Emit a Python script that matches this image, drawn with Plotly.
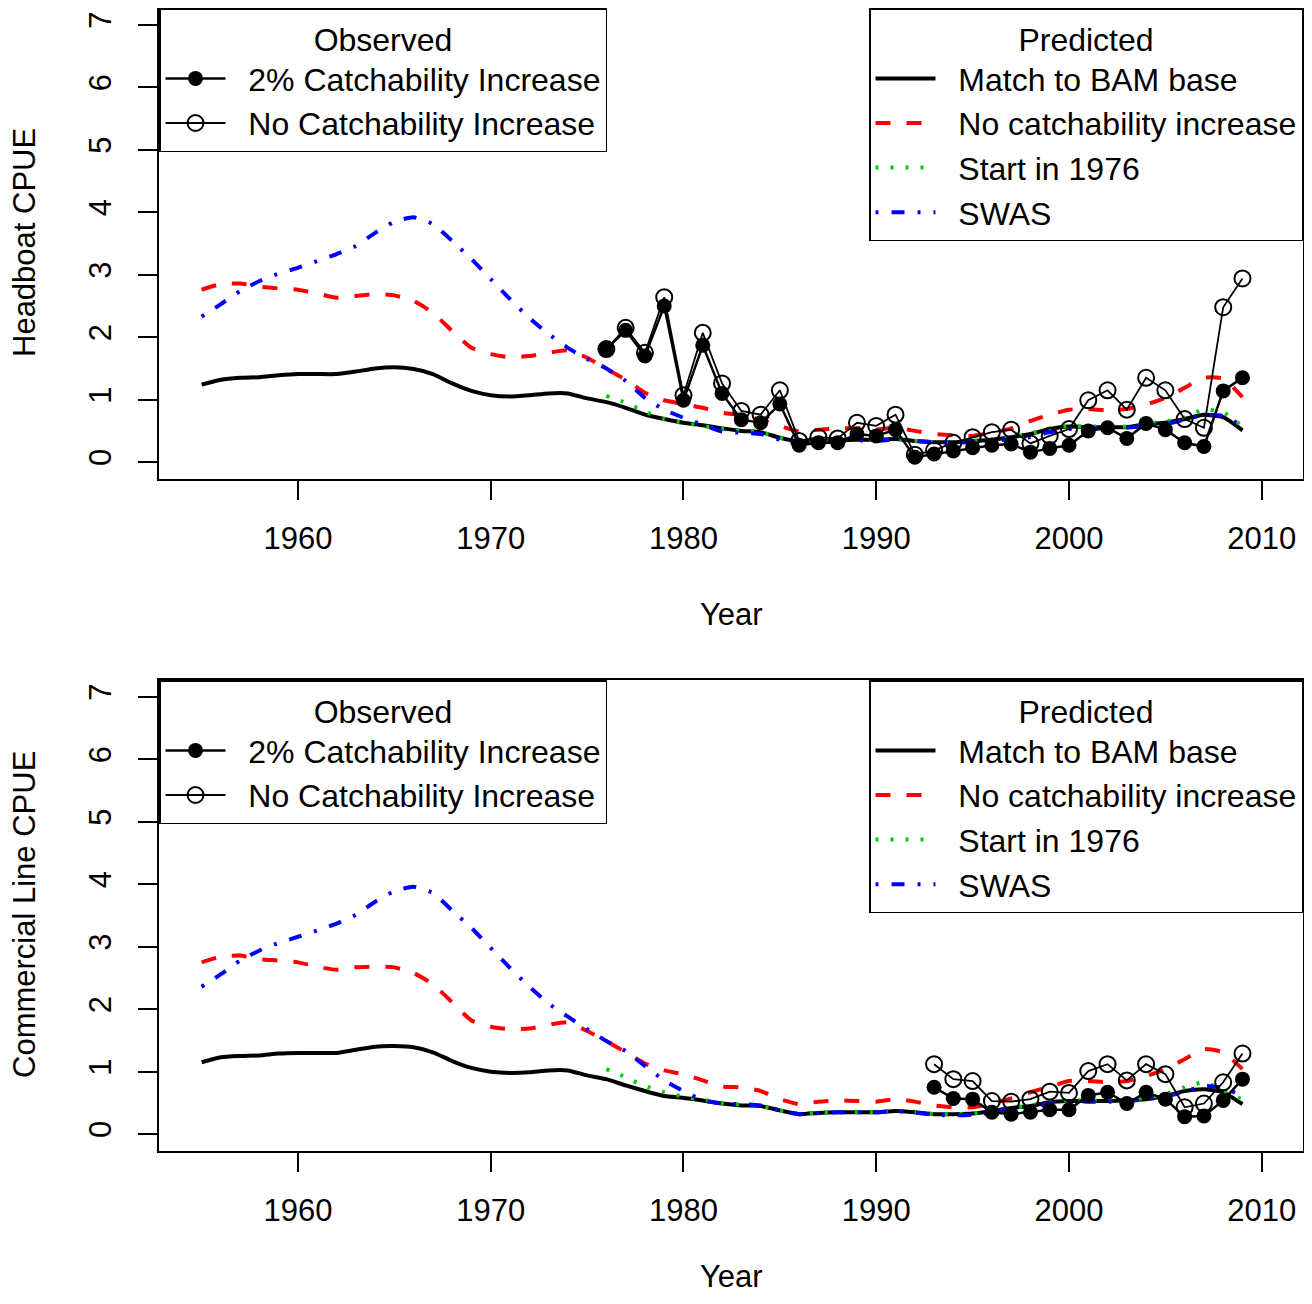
import plotly.graph_objects as go

FONT = "Liberation Sans, Arial, sans-serif"

years = list(range(1955, 2010))
years_1976 = list(range(1976, 2010))
years_cl_obs = list(range(1993, 2010))

# Headboat panel - predicted
hb_base = [1.24, 1.32, 1.35, 1.36, 1.39, 1.41, 1.41, 1.41, 1.45, 1.50,
           1.52, 1.49, 1.41, 1.26, 1.14, 1.07, 1.05, 1.07, 1.10, 1.10,
           1.02, 0.96, 0.87, 0.76, 0.69, 0.63, 0.59, 0.54, 0.50, 0.48,
           0.39, 0.33, 0.34, 0.35, 0.36, 0.36, 0.37, 0.34, 0.32, 0.32,
           0.34, 0.36, 0.40, 0.45, 0.53, 0.57, 0.56, 0.56, 0.56, 0.61,
           0.63, 0.69, 0.76, 0.72, 0.51]
hb_noq = [2.76, 2.85, 2.86, 2.81, 2.78, 2.76, 2.70, 2.63, 2.66, 2.69,
          2.67, 2.58, 2.39, 2.10, 1.83, 1.73, 1.68, 1.70, 1.75, 1.79,
          1.67, 1.49, 1.32, 1.11, 0.99, 0.93, 0.87, 0.79, 0.75, 0.68,
          0.58, 0.49, 0.52, 0.54, 0.54, 0.52, 0.55, 0.50, 0.45, 0.43,
          0.42, 0.47, 0.54, 0.66, 0.76, 0.84, 0.85, 0.83, 0.85, 0.92,
          1.03, 1.19, 1.35, 1.34, 1.04]
hb_swas = [2.33, 2.53, 2.74, 2.90, 3.02, 3.11, 3.22, 3.33, 3.46, 3.67,
           3.85, 3.92, 3.81, 3.54, 3.25, 2.93, 2.61, 2.31, 2.05, 1.83,
           1.65, 1.50, 1.30, 1.03, 0.84, 0.71, 0.60, 0.49, 0.47, 0.45,
           0.36, 0.32, 0.34, 0.35, 0.35, 0.34, 0.36, 0.34, 0.32, 0.31,
           0.32, 0.34, 0.37, 0.40, 0.48, 0.53, 0.54, 0.55, 0.55, 0.58,
           0.61, 0.68, 0.76, 0.74, 0.58]
hb_1976 = [1.06, 0.95, 0.81, 0.69, 0.63, 0.58, 0.53, 0.50, 0.48, 0.39,
           0.33, 0.34, 0.35, 0.36, 0.36, 0.37, 0.34, 0.32, 0.32, 0.34,
           0.36, 0.40, 0.46, 0.54, 0.58, 0.57, 0.57, 0.57, 0.62, 0.65,
           0.72, 0.84, 0.80, 0.57]

# Headboat panel - observed (1976-2009)
hb_obs_q2 = [1.81, 2.11, 1.70, 2.50, 0.99, 1.87, 1.10, 0.68, 0.63, 0.93,
             0.27, 0.31, 0.31, 0.45, 0.42, 0.52, 0.08, 0.13, 0.18, 0.23,
             0.27, 0.29, 0.16, 0.22, 0.27, 0.50, 0.55, 0.38, 0.62, 0.52,
             0.31, 0.25, 1.14, 1.35]
hb_obs_noq = [1.81, 2.15, 1.75, 2.64, 1.07, 2.07, 1.26, 0.82, 0.76, 1.15,
              0.34, 0.40, 0.38, 0.63, 0.58, 0.76, 0.12, 0.19, 0.31, 0.40,
              0.48, 0.52, 0.30, 0.42, 0.53, 0.99, 1.15, 0.84, 1.35, 1.15,
              0.69, 0.55, 2.48, 2.94]

# Commercial line panel - predicted
cl_base = [1.15, 1.23, 1.25, 1.26, 1.29, 1.30, 1.30, 1.30, 1.35, 1.40,
           1.41, 1.39, 1.31, 1.17, 1.06, 1.00, 0.98, 0.99, 1.02, 1.02,
           0.94, 0.88, 0.78, 0.69, 0.61, 0.58, 0.54, 0.49, 0.46, 0.45,
           0.38, 0.32, 0.34, 0.35, 0.35, 0.35, 0.37, 0.35, 0.32, 0.32,
           0.33, 0.37, 0.42, 0.45, 0.51, 0.53, 0.53, 0.53, 0.54, 0.56,
           0.61, 0.69, 0.72, 0.67, 0.48]
cl_noq = [2.75, 2.84, 2.86, 2.80, 2.78, 2.75, 2.68, 2.63, 2.67, 2.68,
          2.67, 2.58, 2.40, 2.11, 1.82, 1.72, 1.68, 1.69, 1.75, 1.79,
          1.65, 1.49, 1.31, 1.13, 1.02, 0.96, 0.86, 0.76, 0.75, 0.69,
          0.56, 0.48, 0.52, 0.54, 0.53, 0.52, 0.56, 0.52, 0.46, 0.43,
          0.43, 0.49, 0.57, 0.67, 0.76, 0.85, 0.85, 0.83, 0.85, 0.93,
          1.04, 1.20, 1.36, 1.31, 1.04]
cl_swas = [2.36, 2.56, 2.78, 2.94, 3.06, 3.16, 3.26, 3.37, 3.51, 3.72,
           3.89, 3.96, 3.86, 3.58, 3.30, 2.98, 2.66, 2.36, 2.09, 1.88,
           1.68, 1.49, 1.33, 1.09, 0.86, 0.69, 0.54, 0.49, 0.48, 0.46,
           0.38, 0.32, 0.34, 0.35, 0.35, 0.35, 0.37, 0.35, 0.31, 0.30,
           0.31, 0.35, 0.40, 0.43, 0.49, 0.52, 0.52, 0.52, 0.53, 0.56,
           0.60, 0.68, 0.77, 0.74, 0.61]
cl_1976 = [1.04, 0.91, 0.77, 0.67, 0.60, 0.55, 0.50, 0.47, 0.45, 0.38,
           0.32, 0.34, 0.35, 0.35, 0.35, 0.37, 0.35, 0.32, 0.32, 0.33,
           0.37, 0.42, 0.46, 0.52, 0.54, 0.54, 0.54, 0.55, 0.58, 0.64,
           0.75, 0.83, 0.70, 0.55]

# Commercial line panel - observed (1993-2009)
cl_obs_q2 = [0.75, 0.57, 0.56, 0.35, 0.32, 0.35, 0.39, 0.39, 0.62, 0.67,
             0.49, 0.67, 0.56, 0.28, 0.29, 0.54, 0.88]
cl_obs_noq = [1.12, 0.88, 0.85, 0.53, 0.52, 0.56, 0.68, 0.66, 1.01, 1.12,
              0.86, 1.12, 0.96, 0.43, 0.49, 0.83, 1.29]

# page body has an 8px margin, so the figure is drawn 16px smaller and offset
PAGE_PAD = 8
W, H = 1312 - 2 * PAGE_PAD, 1304 - 2 * PAGE_PAD
GAP = "\u00a0\u00a0"


def px_x(p):
    return min(1, max(0, (p - PAGE_PAD) / W))


def px_y(p):
    return min(1, max(0, 1 - (p - PAGE_PAD) / H))


fig = go.Figure()


def add_panel(xa, ya, leg_obs, leg_pred, base, noq, start76, swas, obs_years, obs_q2, obs_noq):
    fig.add_trace(go.Scatter(x=years, y=base, mode="lines", name=GAP + "Match to BAM base",
                             line=dict(color="black", width=4, shape="spline", smoothing=0.5),
                             xaxis=xa, yaxis=ya, legend=leg_pred))
    fig.add_trace(go.Scatter(x=years, y=noq, mode="lines", name=GAP + "No catchability increase",
                             line=dict(color="#ff0000", width=4, dash="15px,16px", shape="spline", smoothing=0.5),
                             xaxis=xa, yaxis=ya, legend=leg_pred))
    fig.add_trace(go.Scatter(x=years_1976, y=start76, mode="lines", name=GAP + "Start in 1976",
                             line=dict(color="#00cc00", width=4, dash="3px,12px", shape="spline", smoothing=0.5),
                             xaxis=xa, yaxis=ya, legend=leg_pred))
    fig.add_trace(go.Scatter(x=years, y=swas, mode="lines", name=GAP + "SWAS",
                             line=dict(color="#0000ff", width=4, dash="3px,13px,13px,13px", shape="spline", smoothing=0.5),
                             xaxis=xa, yaxis=ya, legend=leg_pred))
    fig.add_trace(go.Scatter(x=obs_years, y=obs_q2, mode="lines+markers", name=GAP + "2% Catchability Increase",
                             line=dict(color="black", width=2.5),
                             marker=dict(symbol="circle", size=15, color="black"),
                             xaxis=xa, yaxis=ya, legend=leg_obs))
    fig.add_trace(go.Scatter(x=obs_years, y=obs_noq, mode="lines+markers", name=GAP + "No Catchability Increase",
                             line=dict(color="black", width=1.8),
                             marker=dict(symbol="circle-open", size=16, color="black", line=dict(width=2)),
                             xaxis=xa, yaxis=ya, legend=leg_obs))


add_panel("x", "y", "legend", "legend2", hb_base, hb_noq, hb_1976, hb_swas,
          years_1976, hb_obs_q2, hb_obs_noq)
add_panel("x2", "y2", "legend3", "legend4", cl_base, cl_noq, cl_1976, cl_swas,
          years_cl_obs, cl_obs_q2, cl_obs_noq)

axis_common = dict(showline=True, mirror=True, linecolor="black", linewidth=1.5,
                   ticks="outside", ticklen=19, tickwidth=1.5, tickcolor="black",
                   showgrid=False, zeroline=False, automargin=False,
                   tickfont=dict(family=FONT, size=31, color="black"))

xdom = [px_x(159), px_x(1303)]
xaxis_cfg = dict(axis_common, range=[1952.79, 2012.14], tickvals=[1960, 1970, 1980, 1990, 2000, 2010],
                 domain=xdom, ticklabelstandoff=12)
yaxis_cfg = dict(axis_common, range=[-0.27, 7.27], tickvals=list(range(8)), tickangle=-90,
                 ticklabelstandoff=15)


def legend_cfg(x, y, xanchor, title):
    return dict(x=x, y=y, xanchor=xanchor, yanchor="top", xref="paper", yref="paper",
                bgcolor="white", bordercolor="black", borderwidth=1.5,
                font=dict(family=FONT, size=32, color="black"),
                title=dict(text=title, side="top center", font=dict(family=FONT, size=32, color="black")),
                itemwidth=60, tracegroupgap=0, traceorder="normal")


fig.update_layout(
    width=W, height=H,
    margin=dict(l=0, r=0, t=0, b=0),
    paper_bgcolor="white", plot_bgcolor="white",
    font=dict(family=FONT, size=31, color="black"),
    xaxis=dict(xaxis_cfg, anchor="y"),
    yaxis=dict(yaxis_cfg, anchor="x", domain=[px_y(479), px_y(8)]),
    xaxis2=dict(xaxis_cfg, anchor="y2"),
    yaxis2=dict(yaxis_cfg, anchor="x2", domain=[px_y(1151), px_y(680)]),
    legend=legend_cfg(px_x(159), px_y(8), "left", "Observed"),
    legend2=legend_cfg(px_x(1303), px_y(8), "right", "Predicted"),
    legend3=legend_cfg(px_x(159), px_y(680), "left", "Observed"),
    legend4=legend_cfg(px_x(1303), px_y(680), "right", "Predicted"),
)

annots = [
    ("Year", px_x(731), px_y(614), 0),
    ("Year", px_x(731), px_y(1276), 0),
    ("Headboat CPUE", px_x(25), px_y(243), -90),
    ("Commercial Line CPUE", px_x(25), px_y(915), -90),
]
for text, x, y, ang in annots:
    fig.add_annotation(text=text, x=x, y=y, xref="paper", yref="paper",
                       xanchor="center", yanchor="middle", showarrow=False, textangle=ang,
                       font=dict(family=FONT, size=31, color="black"))

fig.write_html("out.html")
